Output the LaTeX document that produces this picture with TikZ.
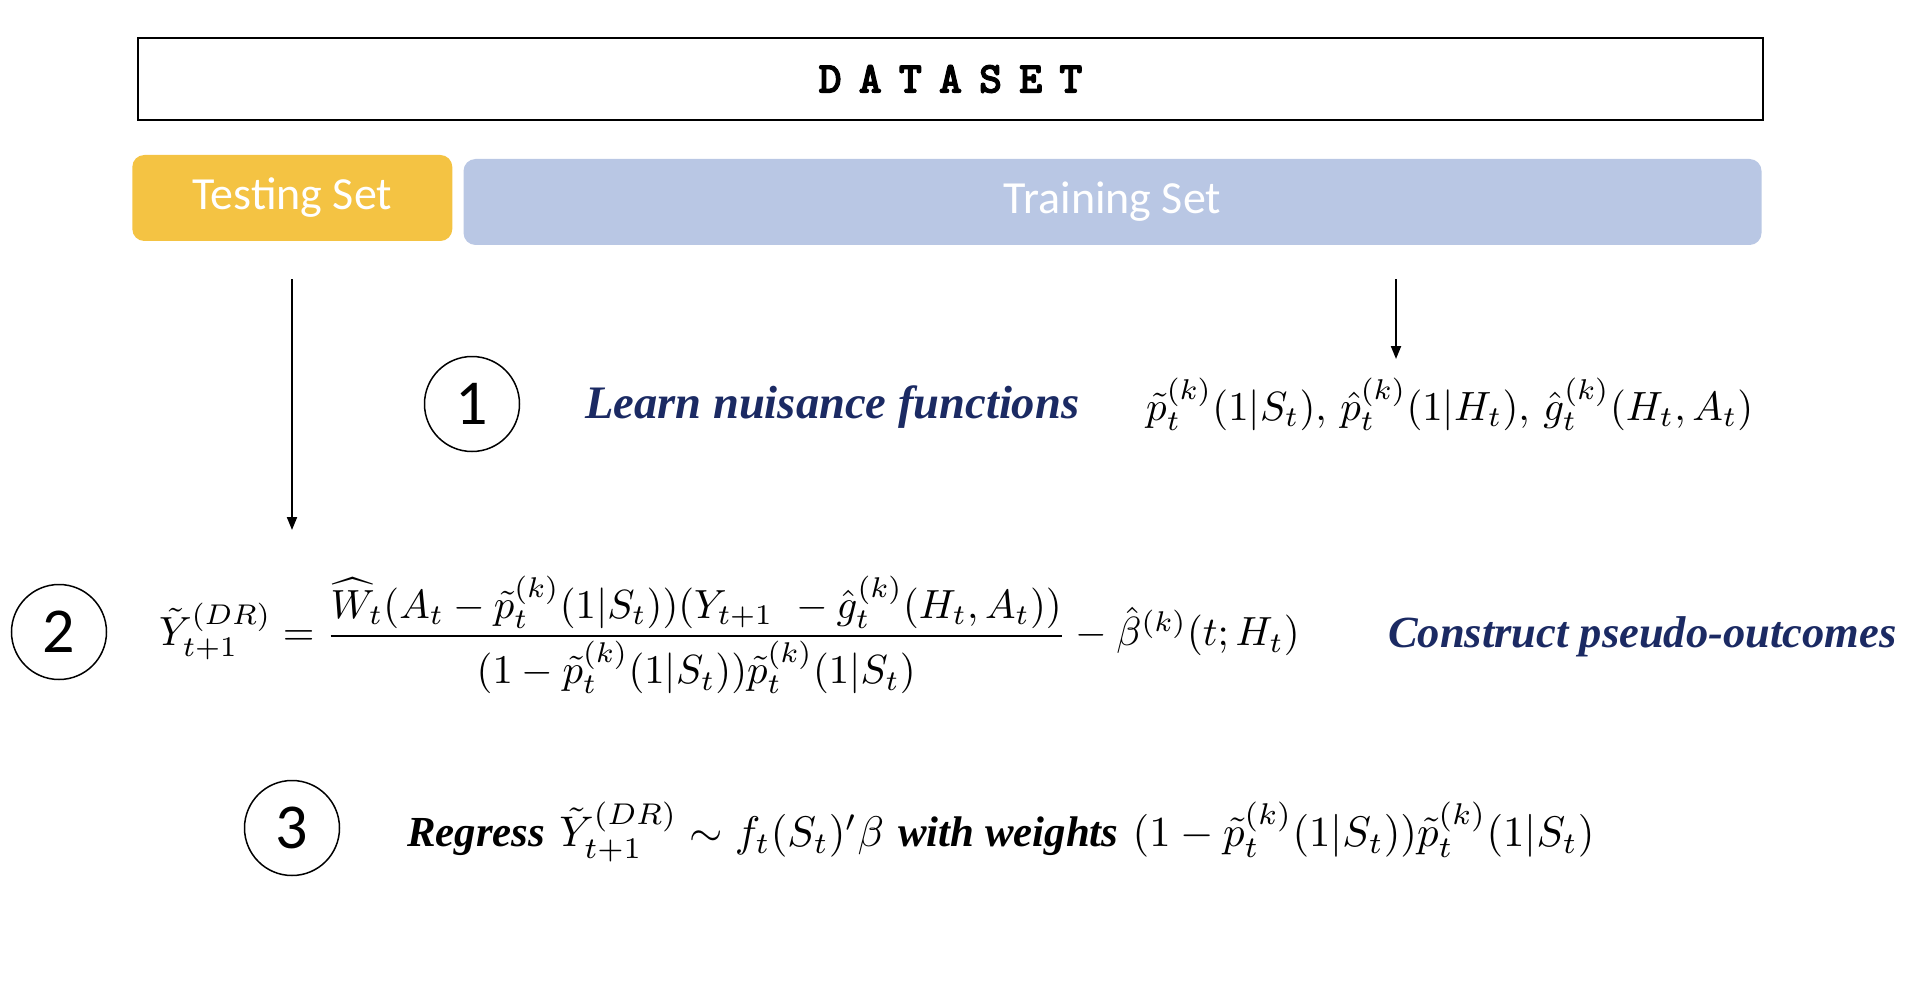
\documentclass[tikz,border=0pt]{standalone}
\usepackage{amsmath}
\usepackage{fontspec}
\usetikzlibrary{arrows.meta}
\newfontfamily\setfont{Carlito}
\newfontfamily\handfont{Liberation Serif}
\newfontfamily\dsfont{lmmonolt10-bold.otf}[FakeBold=2.5]
\definecolor{testcol}{RGB}{244,195,67}
\definecolor{traincol}{RGB}{185,199,228}
\definecolor{navy}{RGB}{27,42,99}
\tikzset{
  setbox/.style={rounded corners=12pt, minimum height=86pt, inner sep=0pt, text=white,
    font=\setfont\fontsize{46}{46}\selectfont},
  numcircle/.style={circle, draw, line width=1.5pt, minimum size=95pt, inner sep=0pt,
    font=\setfont\fontsize{64}{64}\selectfont},
  flowarrow/.style={line width=2pt, -{Triangle[length=13pt,width=10pt]}},
  textnode/.style={anchor=west, inner sep=0pt},
}
\begin{document}
\begin{tikzpicture}[x=1pt,y=-1pt]
\useasboundingbox (0,0) rectangle (1918,1000);
\node[draw, line width=2pt, minimum width=1625pt, minimum height=82pt, inner sep=0pt,
  font=\dsfont\fontsize{44}{44}\selectfont] (dataset) at (950.5,79)
  {D\kern17pt A\kern17pt T\kern17pt A\kern17pt S\kern17pt E\kern17pt T};
\node[setbox, fill=testcol, minimum width=320pt] (testing) at (292.3,198) {Testing Set};
\node[setbox, fill=traincol, minimum width=1298pt] (training) at (1112.5,202) {Training Set};
\coordinate (la) at (292,279);
\coordinate (lb) at (292,530);
\coordinate (ra) at (1396,279);
\coordinate (rb) at (1396,359);
\draw[flowarrow] (la) -- (lb);
\draw[flowarrow] (ra) -- (rb);
\node[numcircle] (c1) at (472,404) {1};
\node[numcircle] (c2) at (59,632) {2};
\node[numcircle] (c3) at (292,828) {3};
\node[textnode, text=navy] (learn) at (585,407)
  {\resizebox{494pt}{!}{\handfont\bfseries\itshape Learn nuisance functions}};
\node[textnode] (f1) at (1146,404)
  {\resizebox{607pt}{!}{$\tilde{p}_t^{(k)}(1|S_t),\, \hat{p}_t^{(k)}(1|H_t),\, \hat{g}_t^{(k)}(H_t,A_t)$}};
\node[textnode] (f2) at (159,635)
  {\resizebox{1140pt}{!}{$\tilde{Y}_{t+1}^{(DR)} = \dfrac{\widehat{W}_t(A_t-\tilde{p}_t^{(k)}(1|S_t))(Y_{t+1}\ -\hat{g}_t^{(k)}(H_t,A_t))}{(1-\tilde{p}_t^{(k)}(1|S_t))\tilde{p}_t^{(k)}(1|S_t)} - \hat{\beta}^{(k)}(t;H_t)$}};
\node[textnode, text=navy] (construct) at (1388,637)
  {\resizebox{508pt}{!}{\handfont\bfseries\itshape Construct pseudo-outcomes}};
\node[textnode] (f3) at (407,832)
  {\resizebox{1187pt}{!}{{\handfont\bfseries\itshape Regress} $\tilde{Y}_{t+1}^{(DR)} \sim f_t(S_t)'\beta$ {\handfont\bfseries\itshape with weights} $(1-\tilde{p}_t^{(k)}(1|S_t))\tilde{p}_t^{(k)}(1|S_t)$}};
\end{tikzpicture}
\end{document}
